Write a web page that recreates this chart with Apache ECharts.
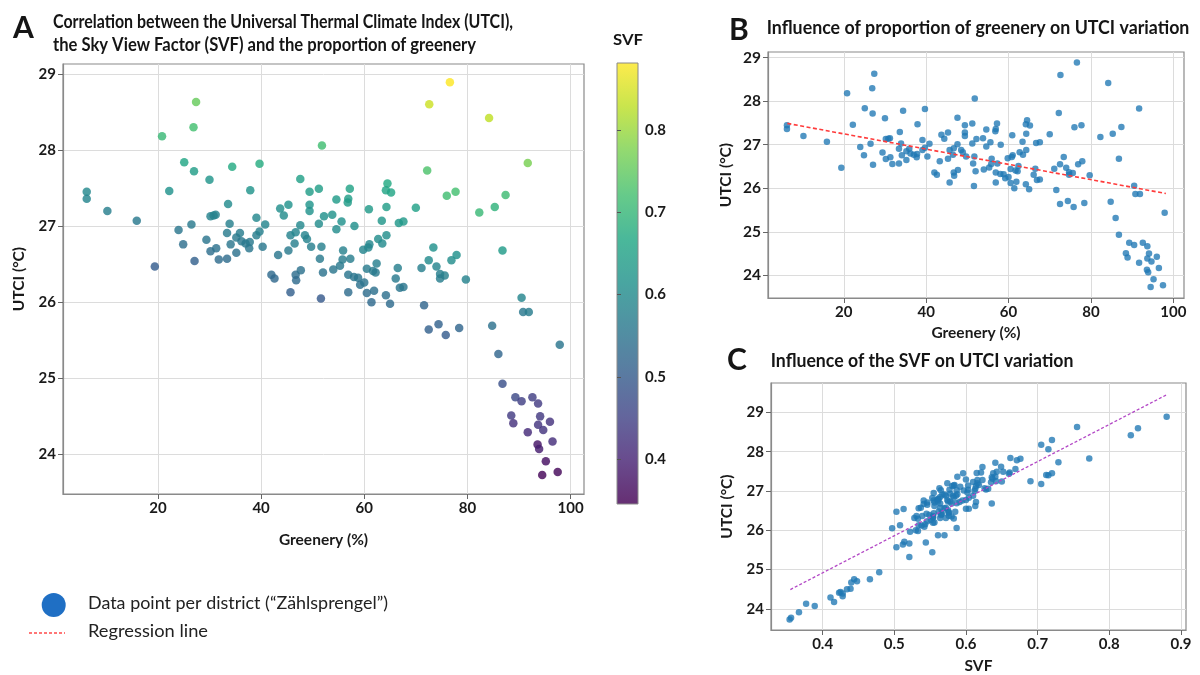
<!DOCTYPE html>
<html><head><meta charset="utf-8">
<script src="https://cdn.jsdelivr.net/npm/echarts@6/dist/echarts.min.js"></script>
<style>html,body{margin:0;padding:0;background:#fff}#chart{width:1200px;height:675px}</style>
</head><body><div id="chart"></div>
<script>
// ---- data ----
const greenery = [27.4,26.9,20.8,51.8,25.1,27.0,34.4,39.7,30.0,47.6,6.2,6.2,22.2,37.9,51.2,49.4,10.2,15.9,33.6,43.7,
45.3,44.4,49.4,49.4,54.6,56.9,56.8,57.2,30.2,30.8,31.2,39.1,40.8,33.9,26.5,24.0,24.9,29.4,30.2,31.3,
31.8,33.4,35.2,34.1,33.4,35.2,35.9,36.2,37.0,37.7,37.8,39.1,39.7,40.3,27.1,19.4,43.3,45.3,45.7,46.7,
47.6,46.5,48.5,48.9,51.2,52.2,53.8,55.6,54.6,49.7,51.7,51.4,55.9,54.0,55.3,55.8,57.3,42.0,42.6,46.7,
46.8,47.7,52.0,56.9,45.7,51.6,56.9,76.6,72.6,84.2,91.7,72.2,64.5,64.2,65.2,76.0,77.7,87.4,85.3,82.3,
60.9,64.3,70.0,58.1,63.4,66.7,67.6,64.3,62.7,63.5,61.0,59.8,60.8,62.4,60.5,61.7,62.2,66.5,73.4,72.5,
76.9,77.9,71.1,74.0,86.8,74.7,75.6,58.0,58.8,59.2,60.0,60.5,61.9,61.4,64.2,65.0,66.1,66.9,67.6,74.7,
79.7,71.6,72.5,74.4,75.8,78.4,90.5,90.8,91.9,84.8,97.9,86.0,86.8,89.3,90.5,92.6,93.7,88.5,88.9,94.1,
96.0,93.7,94.7,91.7,96.5,93.6,93.9,95.2,94.5,97.5];
const utci = [28.63,28.30,28.18,28.06,27.84,27.72,27.78,27.82,27.61,27.62,27.45,27.36,27.46,27.47,27.49,27.45,27.20,27.07,27.29,27.23,
27.28,27.14,27.28,27.20,27.35,27.36,27.31,27.49,27.13,27.14,27.15,27.11,27.02,27.03,27.02,26.95,26.76,26.82,26.67,26.71,
26.56,26.57,26.65,26.76,26.91,26.85,26.91,26.80,26.77,26.71,26.79,26.88,26.93,26.73,26.54,26.47,26.62,26.68,26.88,26.92,
27.01,26.77,26.88,26.83,27.03,27.13,27.15,27.06,26.96,26.73,26.73,26.57,26.68,26.43,26.48,26.56,26.57,26.36,26.31,26.36,
26.29,26.42,26.39,26.36,26.13,26.05,26.13,28.89,28.60,28.42,27.83,27.73,27.56,27.47,27.44,27.40,27.45,27.41,27.25,27.18,
27.22,27.25,27.24,27.00,27.07,27.04,27.06,26.88,26.83,26.77,26.76,26.69,26.72,26.51,26.44,26.41,26.39,26.45,26.72,26.55,
26.55,26.62,26.45,26.47,26.68,26.37,26.35,26.33,26.32,26.23,26.26,26.12,26.15,26.00,26.09,25.98,26.31,26.19,26.20,26.31,
26.30,25.96,25.64,25.71,25.57,25.66,26.06,25.87,25.87,25.69,25.44,25.32,24.93,24.75,24.70,24.75,24.67,24.51,24.41,24.50,
24.43,24.39,24.32,24.29,24.17,24.13,24.07,23.91,23.73,23.77];
const svf = [0.755,0.72,0.705,0.715,0.662,0.641,0.671,0.676,0.623,0.649,0.596,0.588,0.615,0.621,0.643,0.638,0.574,0.563,0.600,0.610,
0.616,0.603,0.623,0.616,0.636,0.641,0.637,0.652,0.581,0.583,0.584,0.592,0.587,0.577,0.565,0.555,0.541,0.553,0.541,0.546,
0.534,0.537,0.546,0.555,0.567,0.564,0.570,0.561,0.560,0.556,0.562,0.572,0.578,0.561,0.513,0.503,0.556,0.564,0.582,0.588,
0.597,0.574,0.586,0.583,0.603,0.614,0.618,0.613,0.602,0.575,0.578,0.564,0.580,0.555,0.562,0.570,0.572,0.531,0.528,0.539,
0.533,0.545,0.549,0.554,0.508,0.497,0.534,0.88,0.84,0.83,0.772,0.729,0.669,0.661,0.660,0.715,0.72,0.712,0.69,0.705,
0.635,0.642,0.650,0.612,0.626,0.628,0.631,0.610,0.604,0.600,0.595,0.587,0.591,0.575,0.566,0.566,0.565,0.576,0.614,0.600,
0.604,0.613,0.576,0.585,0.636,0.576,0.580,0.554,0.554,0.546,0.551,0.538,0.543,0.530,0.542,0.533,0.564,0.554,0.556,0.572,
0.583,0.522,0.512,0.514,0.503,0.521,0.587,0.561,0.57,0.544,0.553,0.521,0.479,0.466,0.448,0.444,0.44,0.439,0.423,0.434,
0.425,0.428,0.428,0.411,0.416,0.377,0.389,0.367,0.354,0.356];
const regressionB = [[6.3, 27.49], [98.2, 25.88]];
const regressionC = [[0.355, 24.49], [0.88, 29.45]];
const greeneryTicks = [20, 40, 60, 80, 100];
const utciTicks = [24, 25, 26, 27, 28, 29];
const svfTicks = [0.4, 0.5, 0.6, 0.7, 0.8, 0.9];
const colorbarTicks = [0.4, 0.5, 0.6, 0.7, 0.8];

// ---- build ----
const viridis = ['#440154','#482475','#414487','#355f8d','#2a788e','#21918c','#22a884','#44bf70','#7ad151','#bddf26','#fde725'];
function rgba(hex, a){const n=parseInt(hex.slice(1),16);return `rgba(${n>>16},${(n>>8)&255},${n&255},${a})`;}
const SVF_MIN = 0.346, SVF_MAX = 0.881;
const ptsA = greenery.map((g,i)=>[g, utci[i], svf[i]]);
const ptsB = greenery.map((g,i)=>[g, utci[i]]);
const ptsC = svf.map((s,i)=>[s, utci[i]]);

const FONT = 'Lato';
const labelStyle = {fontFamily:FONT, fontWeight:'bold', fontSize:15, color:'#1a1a1a'};
const nameStyle = {fontFamily:FONT, fontWeight:'bold', fontSize:15.5, color:'#1a1a1a'};

function axis(gridIndex, min, max, ticks, o) {
  return Object.assign({
    type:'value', gridIndex, min, max, splitNumber:5,
    axisLine:{show:true, lineStyle:{color:'#8a8a8a', width:1.2}},
    axisTick:{show:true, length:5, customValues:ticks, lineStyle:{color:'#666'}},
    axisLabel:Object.assign({customValues:ticks, margin:7}, labelStyle),
    splitLine:{show:true, lineStyle:{color:'#dcdcdc', width:1}},
    nameTextStyle:nameStyle, nameLocation:'middle'
  }, o||{});
}

const mctx = document.createElement('canvas').getContext('2d');
function txt(text, x, cy, size, weight, targetW, color) {
  mctx.font = `${weight} ${size}px ${FONT}`;
  const w = mctx.measureText(text).width;
  return {type:'text', x, y:cy, scaleX: targetW ? targetW / w : 1, z:100,
    style:{text, fontFamily:FONT, fontSize:size, fontWeight:weight, fill:color||'#151515', align:'left', verticalAlign:'middle'}};
}

const gridStyle = {show:true, borderColor:'#8a8a8a', borderWidth:1.2, containLabel:false};
const option = {
  animation:false,
  backgroundColor:'#fff',
  grid:[
    Object.assign({left:63, top:64, width:521, height:430}, gridStyle),
    Object.assign({left:768, top:52, width:416, height:246}, gridStyle),
    Object.assign({left:771, top:383, width:415, height:248}, gridStyle),
    {show:true, left:617, top:63, width:21, height:441, borderColor:'#8a8a8a', borderWidth:1,
     backgroundColor:new echarts.graphic.LinearGradient(0,1,0,0, viridis.map((c,i)=>({offset:i/10, color:rgba(c,0.82)})))}
  ],
  xAxis:[
    axis(0, 1.6, 102.6, greeneryTicks, {name:'Greenery (%)', nameGap:38}),
    axis(1, 1.6, 102.6, greeneryTicks, {name:'Greenery (%)', nameGap:27}),
    axis(2, 0.328, 0.907, svfTicks, {name:'SVF', nameGap:28}),
    {type:'value', gridIndex:3, min:0, max:1, show:false}
  ],
  yAxis:[
    axis(0, 23.48, 29.13, utciTicks, {name:'UTCI (°C)', nameGap:36}),
    axis(1, 23.48, 29.13, utciTicks, {name:'UTCI (°C)', nameGap:34, axisLabel:Object.assign({customValues:utciTicks, margin:7}, labelStyle, {fontSize:15.5})}),
    axis(2, 23.46, 29.75, utciTicks, {name:'UTCI (°C)', nameGap:36}),
    {type:'value', gridIndex:3, position:'right', min:SVF_MIN, max:SVF_MAX,
     axisLine:{show:false}, splitLine:{show:false},
     axisTick:{show:true, length:4, customValues:colorbarTicks, lineStyle:{color:'#555'}},
     axisLabel:Object.assign({customValues:colorbarTicks, margin:7}, labelStyle)}
  ],
  visualMap:{show:false, type:'continuous', seriesIndex:0, dimension:2, min:SVF_MIN, max:SVF_MAX, inRange:{color:viridis}},
  series:[
    {type:'scatter', xAxisIndex:0, yAxisIndex:0, data:ptsA, symbolSize:8.5, itemStyle:{opacity:0.82}},
    {type:'scatter', xAxisIndex:1, yAxisIndex:1, data:ptsB, symbolSize:6.5, itemStyle:{color:'#1f77b4', opacity:0.78}},
    {type:'line', xAxisIndex:1, yAxisIndex:1, data:regressionB, symbol:'none', z:3,
     lineStyle:{color:'#ff3b3b', width:1.6, type:[4,2.5]}},
    {type:'scatter', xAxisIndex:2, yAxisIndex:2, data:ptsC, symbolSize:6.5, itemStyle:{color:'#1f77b4', opacity:0.78}},
    {type:'line', xAxisIndex:2, yAxisIndex:2, data:regressionC, symbol:'none', z:3,
     lineStyle:{color:'#b348c6', width:1.3, type:[3,2]}}
  ],
  graphic:[
    txt('A', 13, 28, 30, 'bold'),
    txt('Correlation between the Universal Thermal Climate Index (UTCI),', 53, 22, 19, 'bold', 460),
    txt('the Sky View Factor (SVF) and the proportion of greenery', 53, 44.7, 19, 'bold', 423),
    txt('SVF', 613, 40, 15.5, 'bold', 30),
    txt('B', 729, 30, 30, 'bold'),
    txt('Influence of proportion of greenery on UTCI variation', 766.7, 28.3, 18, 'bold', 422.7),
    txt('C', 727, 360.5, 30, 'bold'),
    txt('Influence of the SVF on UTCI variation', 770.7, 360.7, 18, 'bold', 302.7),
    {type:'circle', z:100, shape:{cx:53.7, cy:605, r:12}, style:{fill:'#1f6fc4'}},
    txt('Data point per district (\u201cZählsprengel\u201d)', 88, 603.3, 16.5, 'normal', 300, '#222'),
    {type:'line', z:100, shape:{x1:29, y1:633, x2:65, y2:633}, style:{stroke:'#ff4a4a', lineWidth:1.3, lineDash:[3,2]}},
    txt('Regression line', 88, 631.7, 16.5, 'normal', 120, '#222')
  ]
};
const chart = echarts.init(document.getElementById('chart'));
chart.setOption(option);
</script></body></html>
